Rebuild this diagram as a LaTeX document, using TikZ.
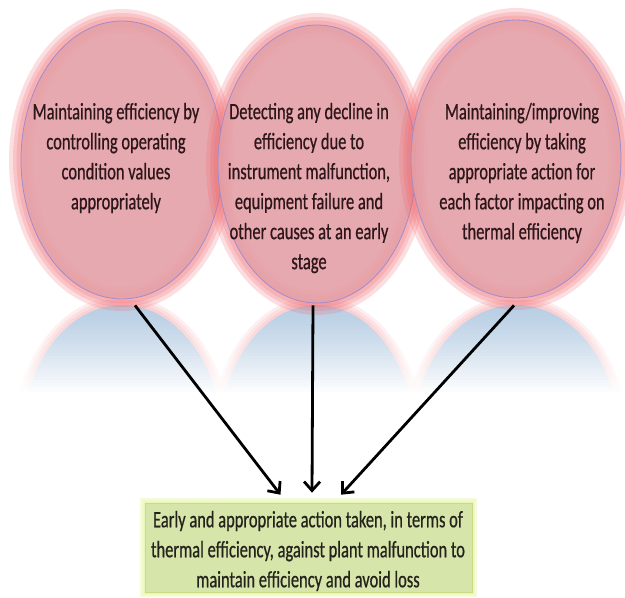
\documentclass[tikz,border=0pt]{standalone}
\usepackage{fontspec}
\setmainfont{Carlito}
\newfontfamily\narrowfont[FakeStretch=0.70,FakeBold=0.6]{Carlito}
\usetikzlibrary{arrows.meta,shapes.geometric,calc}

\definecolor{petalfill}{RGB}{228,160,167}
\definecolor{petalline}{RGB}{160,140,205}
\definecolor{petalglow}{RGB}{240,105,112}
\definecolor{mirrorblue}{RGB}{184,206,228}
\definecolor{goalfill}{RGB}{214,229,170}
\definecolor{goalglow}{RGB}{225,242,160}
\definecolor{inktext}{RGB}{45,22,26}
\definecolor{goalink}{RGB}{35,35,28}

\tikzset{
  petal/.style={ellipse, draw=petalline, fill=petalfill, fill opacity=0.9,
    line width=0.8pt, inner sep=0pt},
  petaltext/.style={align=center, text=inktext, inner sep=0pt,
    font=\narrowfont\fontsize{23.5}{30}\selectfont},
  goalbox/.style={draw=goalglow!80!olive, line width=0.6pt,
    fill=goalfill, inner sep=0pt,
    minimum width=327pt, minimum height=89pt},
  goaltext/.style={align=center, text=goalink, inner sep=0pt,
    font=\narrowfont\fontsize{23.5}{30}\selectfont},
  flowarrow/.style={line width=2.8pt, black,
    -{Straight Barb[length=9pt,width=16pt]}},
}

\begin{document}
\begin{tikzpicture}[x=1pt,y=-1pt]
\useasboundingbox (0,0) rectangle (625,598);

% mirrored reflections below the three ovals
\begin{scope}
  \clip (0,300) rectangle (625,400);
  \foreach \cx/\rx in {122/101,317/99,516/105}{
    \foreach \w in {18,12,6}
      \draw[petalglow, line width=\w pt, opacity=0.12]
        (\cx,444) ellipse [x radius=\rx, y radius=139];
    \fill[mirrorblue] (\cx,444) ellipse [x radius=\rx, y radius=139];
  }
  % white veil growing stronger downwards, strip by strip
  \foreach \k [evaluate=\k as \op using {(\k/30)^1.3}] in {0,...,30}
    \fill[white, opacity=\op] (0,302+3*\k) rectangle (625,305+3*\k);
  \fill[white] (0,394) rectangle (625,401);
\end{scope}

% soft red halo round each oval, then the oval itself
\foreach \w in {24,16,9}
  \draw[petalglow, line width=\w pt, opacity=0.22]
    (122,160) ellipse [x radius=101, y radius=139];
\node[petal, minimum width=202pt, minimum height=278pt] (e1) at (122,160) {};

\foreach \w in {24,16,9}
  \draw[petalglow, line width=\w pt, opacity=0.22]
    (317,164) ellipse [x radius=99, y radius=139];
\node[petal, minimum width=198pt, minimum height=278pt] (e2) at (317,164) {};

\foreach \w in {24,16,9}
  \draw[petalglow, line width=\w pt, opacity=0.22]
    (516,159) ellipse [x radius=105, y radius=139];
\node[petal, minimum width=210pt, minimum height=278pt] (e3) at (516,159) {};

% oval texts
\node[petaltext] (t1) at (116,158) {Maintaining efficiency by\\controlling operating\\condition values\\appropriately};
\node[petaltext] (t2) at (309,188) {Detecting any decline in\\efficiency due to\\instrument malfunction,\\equipment failure and\\other causes at an early\\stage};
\node[petaltext] (t3) at (522,173) {Maintaining/improving\\efficiency by taking\\appropriate action for\\each factor impacting on\\thermal efficiency};

% outcome box with a light green glow
\foreach \w in {10,6,3}
  \draw[goalglow, line width=\w pt, opacity=0.35] (145,503) rectangle (472,592);
\node[goalbox] (goal) at (308.5,547.5) {};
\node[goaltext] (gtext) at (308,551) {Early and appropriate action taken, in terms of\\thermal efficiency, against plant malfunction to\\maintain efficiency and avoid loss};

% connector ends
\coordinate (s1) at ($(e1.south)+(13,6)$);
\coordinate (s2) at ($(e2.south)+(-4,2)$);
\coordinate (s3) at ($(e3.south)+(-2,7)$);
\coordinate (g1) at ($(goal.north)+(-28,-8)$);
\coordinate (g2) at ($(goal.north)+(3.5,-10)$);
\coordinate (g3) at ($(goal.north)+(32.5,-8)$);

\draw[flowarrow] (s1) -- (g1);
\draw[flowarrow] (s2) -- (g2);
\draw[flowarrow] (s3) -- (g3);
\end{tikzpicture}
\end{document}
